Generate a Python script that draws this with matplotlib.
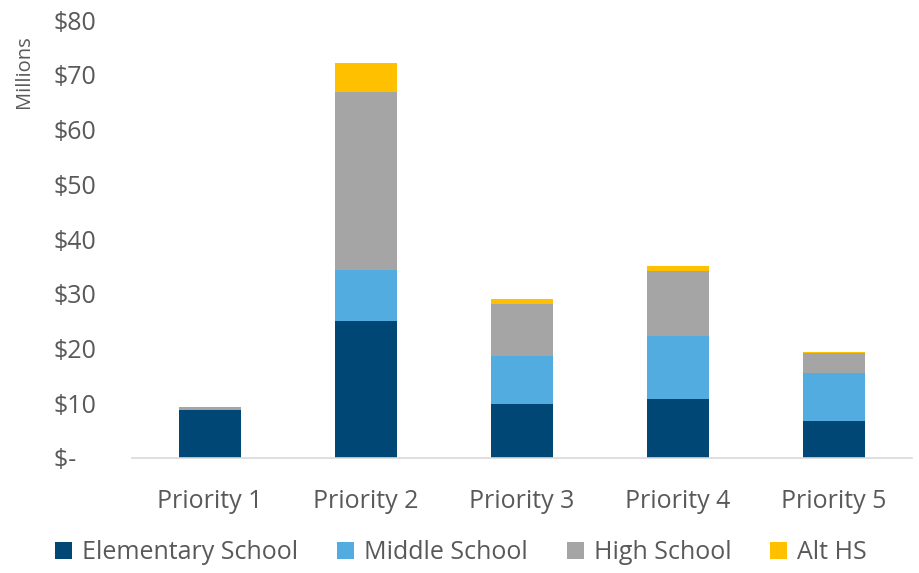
import numpy as np
import matplotlib.pyplot as plt

plt.rcParams['font.family'] = ['Open Sans', 'DejaVu Sans']

categories = ['Priority 1', 'Priority 2', 'Priority 3', 'Priority 4', 'Priority 5']
elementary = [8.8, 25.1, 9.8, 10.8, 6.8]
middle = [0.0, 9.2, 8.8, 11.5, 8.7]
high = [0.5, 32.6, 9.5, 11.8, 3.6]
alt_hs = [0.0, 5.2, 0.9, 1.0, 0.2]

series = [
    ('Elementary School', elementary, '#004775'),
    ('Middle School', middle, '#53ace0'),
    ('High School', high, '#a5a5a5'),
    ('Alt HS', alt_hs, '#ffc000'),
]

txt = '#595959'

fig = plt.figure(figsize=(9.2, 5.73), dpi=100)
ax = fig.add_axes([0.1435, 0.2007, 0.8475, 0.764])

x = np.arange(len(categories))
bottom = np.zeros(len(categories))
for name, vals, col in series:
    ax.bar(x, vals, 0.4, bottom=bottom, color=col, label=name)
    bottom += np.array(vals)

ax.set_xlim(-0.5, len(categories) - 0.5)
ax.set_ylim(0, 80)
ax.set_yticks(range(0, 81, 10))
ax.set_yticklabels(['$-   '] + ['$%d' % v for v in range(10, 81, 10)])
ax.set_xticks(x)
ax.set_xticklabels(categories)
ax.tick_params(axis='both', length=0, labelsize=18, colors=txt)
ax.tick_params(axis='x', pad=22)
ax.tick_params(axis='y', pad=26)

for s in ['top', 'right', 'left']:
    ax.spines[s].set_visible(False)
ax.spines['bottom'].set_color('#d9d9d9')
ax.spines['bottom'].set_linewidth(1.2)

fig.text(0.026, 0.875, 'Millions', rotation=90, ha='center', va='center',
         fontsize=14.5, color=txt)

fig.legend(loc='center', bbox_to_anchor=(0.501, 0.035), ncol=4, frameon=False,
           fontsize=18, labelcolor=txt, handlelength=0.68, handleheight=0.68,
           handletextpad=0.4, columnspacing=1.55, borderpad=0)

fig.savefig('out.png', dpi=100)
